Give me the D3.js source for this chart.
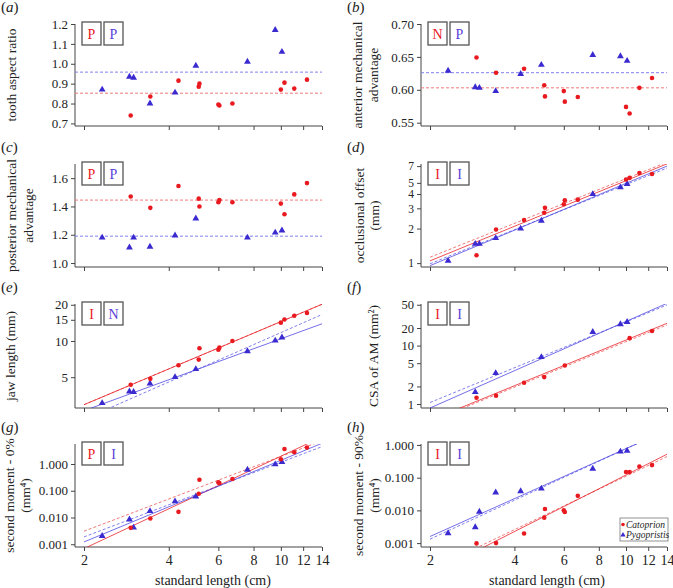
<!DOCTYPE html>
<html><head><meta charset="utf-8">
<script src="https://cdn.jsdelivr.net/npm/d3@7"></script>
<style>
body{margin:0;background:#fff}
svg{display:block}
text{font-family:"Liberation Serif","DejaVu Serif",serif;fill:#222}
</style>
</head><body><svg id="c" width="673" height="588"></svg>
<script>
// ---------- data ----------
const catX = [2.93,3.44,4.33,5.11,5.14,6.00,6.05,6.73,10.0,10.3,11.16,12.38];
const pygX = [2.32,2.90,3.00,3.43,4.21,4.99,7.61,9.55,10.09];
const xTicks = [2,4,6,8,10,12,14];

const aCat = [0.74,0.835,0.915,0.885,0.90,0.795,0.79,0.80,0.87,0.905,0.875,0.92];
const aPyg = [0.87,0.935,0.93,0.80,0.855,0.99,1.01,1.17,1.06];
const aMeans = [0.852,0.958];

const bCat = [0.649,0.626,0.632,0.607,0.59,0.598,0.582,0.589,0.574,0.564,0.603,0.618];
const bPyg = [0.629,0.604,0.603,0.598,0.624,0.638,0.653,0.651,0.644];
const bMeans = [0.603,0.626];

const cCat = [1.47,1.39,1.545,1.455,1.40,1.43,1.445,1.43,1.42,1.345,1.485,1.565];
const cPyg = [1.18,1.11,1.18,1.115,1.195,1.315,1.18,1.215,1.23];
const cMeans = [1.445,1.19];

const dCat = [1.17,1.96,2.37,2.75,3.03,3.26,3.53,3.57,5.35,5.53,6.10,5.98];
const dPyg = [1.05,1.47,1.47,1.65,2.0,2.34,3.99,4.57,4.89];
// fit lines: [x0, y0, x1, y1]
const dFits = {catSolid:[2,1.046,14,7.32], catDash:[2,1.125,14,7.57], pygSolid:[2,0.95,14,7.0], pygDash:[2,0.987,14,6.73]};

const eCat = [4.32,4.84,6.29,7.0,8.70,8.47,8.80,10.0,14.2,15.1,16.2,17.1];
const ePyg = [3.04,3.80,3.76,4.43,5.0,5.83,8.22,10.06,10.7];
const eFits = {catSolid:[2,2.95,14,20.2], catDash:[2,2.95,14,20.2], pygSolid:[2,2.63,14,13.9], pygDash:[2,2.23,14,16.6]};

const fCatX = [2.93,3.44,4.33,5.11,6.05,10.3,12.38];
const fCat = [1.28,1.39,2.31,2.89,4.56,13.4,17.8];
const fPygX = [2.90,3.43,4.99,7.61,9.55,10.09];
const fPyg = [1.60,3.38,6.34,17.1,23.2,25.4];
const fFits = {catSolid:[2,0.526,14,24.1], catDash:[2,0.50,14,22.6], pygSolid:[2,0.855,14,52.9], pygDash:[2,1.06,14,49.5]};

const gCat = [0.0041,0.0092,0.0163,0.077,0.258,0.205,0.194,0.274,1.50,3.65,2.74,4.10];
const gPyg = [0.00205,0.0084,0.0042,0.0173,0.040,0.0614,0.612,0.97,1.19];
const gFits = {catSolid:[2,0.00069,14,10.3], catDash:[2,0.00308,14,7.38], pygSolid:[2,0.00122,14,5.97], pygDash:[2,0.00188,14,4.46]};

const hCat = [0.00098,0.0010,0.00196,0.006,0.011,0.0100,0.0089,0.0278,0.149,0.149,0.220,0.242];
const hPyg = [0.00201,0.00305,0.0091,0.0351,0.0385,0.0464,0.187,0.628,0.658];
const hFits = {catSolid:[2,0.00011,14,0.522], catDash:[2,0.000149,14,0.443], pygSolid:[2,0.00159,14,2.82], pygDash:[2,0.00132,14,2.9]};

const smallLogTicks = [0.001,0.01,0.1,1];
const species = ["Catoprion","Pygopristis"];

// ---------- styling ----------
const RED = "#e8191f", BLUE = "#3a2ad0";
const RED_L = "#f07a7a", BLUE_L = "#8080ee";
const RED_LET = "#e8191f", BLUE_LET = "#5a3fd8";

const rows = [{t:24,b:126},{t:164,b:267},{t:304,b:408},{t:444,b:547}];
const cols = [{axis:75, x0:84, x1:322, lab:0, title:213},{axis:421, x0:430, x1:667, lab:346, title:547}];

const panels = [
 {id:"a", r:0, c:0, type:"lin", dom:[0.687,1.2], ticks:[0.7,0.8,0.9,1.0,1.1,1.2], fmt:d3.format(".1f"), tfs:13,
  label:["tooth aspect ratio"], labX:[11], cat:aCat, catX:catX, pyg:aPyg, pygX:pygX, means:aMeans, let:["P","P"]},
 {id:"b", r:0, c:1, type:"lin", dom:[0.545,0.70], ticks:[0.55,0.60,0.65,0.70], fmt:d3.format(".2f"), tfs:13,
  label:["anterior mechanical","advantage"], labX:[357,373], cat:bCat, catX:catX, pyg:bPyg, pygX:pygX, means:bMeans, let:["N","P"]},
 {id:"c", r:1, c:0, type:"lin", dom:[0.972,1.70], ticks:[1.0,1.2,1.4,1.6], fmt:d3.format(".1f"), tfs:13,
  label:["posterior mechanical","advantage"], labX:[11,28], cat:cCat, catX:catX, pyg:cPyg, pygX:pygX, means:cMeans, let:["P","P"]},
 {id:"d", r:1, c:1, type:"log", dom:[0.925,7.3], ticks:[1,2,3,4,5,7], fmt:d3.format("d"), tfs:11.5,
  label:["occlusional offset","(mm)"], labX:[359,374], cat:dCat, catX:catX, pyg:dPyg, pygX:pygX, fits:dFits, let:["I","I"]},
 {id:"e", r:2, c:0, type:"log", dom:[2.77,20.3], ticks:[5,10,15,20], fmt:d3.format("d"), tfs:13,
  label:["jaw length (mm)"], labX:[10], cat:eCat, catX:catX, pyg:ePyg, pygX:pygX, fits:eFits, let:["I","N"]},
 {id:"f", r:2, c:1, type:"log", dom:[0.855,51.5], ticks:[1,2,5,10,20,50], fmt:d3.format("d"), tfs:12.5,
  label:["CSA of AM (mm\u00b2)"], labX:[373], cat:fCat, catX:fCatX, pyg:fPyg, pygX:fPygX, fits:fFits, let:["I","I"]},
 {id:"g", r:3, c:0, type:"log", dom:[0.00079,5.6], ticks:smallLogTicks, fmt:d3.format(".3f"), tfs:13,
  label:["second moment - 0%","(mm\u2074)"], labX:[9,25], cat:gCat, catX:catX, pyg:gPyg, pygX:pygX, fits:gFits, let:["P","I"]},
 {id:"h", r:3, c:1, type:"log", dom:[0.00076,1.07], ticks:smallLogTicks, fmt:d3.format(".3f"), tfs:13,
  label:["second moment - 90%","(mm\u2074)"], labX:[358,374], cat:hCat, catX:catX, pyg:hPyg, pygX:pygX, fits:hFits, let:["I","I"]}
];

const svg = d3.select("#c");
const defs = svg.append("defs");
const tri = d3.symbol().type(d3.symbolTriangle).size(20);

panels.forEach(p => {
  const row = rows[p.r], col = cols[p.c];
  const x = d3.scaleLog().domain([2,14]).range([col.x0, col.x1]);
  const y = (p.type === "log" ? d3.scaleLog() : d3.scaleLinear()).domain(p.dom).range([row.b, row.t]);
  const g = svg.append("g");

  defs.append("clipPath").attr("id","clip-"+p.id).append("rect")
    .attr("x", col.axis).attr("y", row.t).attr("width", col.x1 - col.axis).attr("height", row.b - row.t);

  // panel letter
  const pl = g.append("text").attr("x", col.lab + 1).attr("y", row.t - 12).attr("font-size", 15);
  pl.append("tspan").text("(");
  pl.append("tspan").attr("font-style","italic").text(p.id);
  pl.append("tspan").text(")");

  // y axis
  const ya = d3.axisLeft(y).tickValues(p.ticks).tickFormat(p.fmt).tickSize(4).tickPadding(3);
  const yg = g.append("g").attr("transform", `translate(${col.axis},0)`).call(ya);
  yg.select(".domain").remove();
  yg.selectAll("line").attr("stroke","#444");
  yg.selectAll("text").attr("font-size",p.tfs).attr("font-family",'"Liberation Serif",serif').attr("fill","#222");

  // x axis
  const xa = d3.axisBottom(x).tickValues(xTicks).tickSize(4).tickPadding(4)
    .tickFormat(p.r === 3 ? d3.format("d") : () => "");
  const xg = g.append("g").attr("transform", `translate(0,${row.b})`).call(xa);
  xg.select(".domain").remove();
  xg.selectAll("line").attr("stroke","#444");
  xg.selectAll("text").attr("font-size",14).attr("font-family",'"Liberation Serif",serif').attr("fill","#222");

  // frame (L shape)
  g.append("path").attr("d", `M${col.axis},${row.t}V${row.b}H${col.x1}`)
    .attr("fill","none").attr("stroke","#444").attr("stroke-width",1);

  // y label
  const midY = (row.t + row.b)/2;
  p.label.forEach((s,i) => {
    g.append("text").attr("transform", `translate(${p.labX[i]},${midY}) rotate(-90)`)
      .attr("text-anchor","middle").attr("dominant-baseline","central")
      .attr("font-size",13.5).text(s);
  });

  const plot = g.append("g").attr("clip-path", `url(#clip-${p.id})`);

  if (p.means) {
    [[p.means[0], RED_L],[p.means[1], BLUE_L]].forEach(([m,cc]) => {
      plot.append("line").attr("x1", col.axis).attr("x2", col.x1).attr("y1", y(m)).attr("y2", y(m))
        .attr("stroke", cc).attr("stroke-width",1).attr("stroke-dasharray","3,2");
    });
  }
  if (p.fits) {
    const defsF = [["catDash", RED_L, "3,2"],["pygDash", BLUE_L, "3,2"],["catSolid", RED, null],["pygSolid", "#4a40e0", null]];
    defsF.forEach(([k,cc,da]) => {
      const f = p.fits[k];
      const ln = plot.append("line").attr("x1", x(f[0])).attr("y1", y(f[1])).attr("x2", x(f[2])).attr("y2", y(f[3]))
        .attr("stroke", cc).attr("stroke-width", da ? 1 : 0.9);
      if (da) ln.attr("stroke-dasharray", da);
      else ln.attr("stroke-opacity", 0.85);
    });
  }

  // points
  g.selectAll(null).data(p.pyg).join("path")
    .attr("d", tri).attr("transform", (d,i) => `translate(${x(p.pygX[i])},${y(d)})`).attr("fill", BLUE);
  g.selectAll(null).data(p.cat).join("circle")
    .attr("cx", (d,i) => x(p.catX[i])).attr("cy", d => y(d)).attr("r", 2.3).attr("fill", RED);

  // legend letter boxes
  const bx = [col.axis + 7, col.axis + 29];
  p.let.forEach((L,i) => {
    g.append("rect").attr("x", bx[i]).attr("y", row.t - 2).attr("width", 19).attr("height", 23)
      .attr("fill","#fff").attr("stroke","#555").attr("stroke-width",1.3);
    g.append("text").attr("x", bx[i] + 9.5).attr("y", row.t + 14.5).attr("text-anchor","middle")
      .attr("font-size",14).style("fill", i === 0 ? RED_LET : BLUE_LET).text(L);
  });
});

// x axis titles
cols.forEach(col => {
  svg.append("text").attr("x", col.title).attr("y", 585).attr("text-anchor","middle")
    .attr("font-size",14).text("standard length (cm)");
});

// species legend in (h)
const lg = svg.append("g");
lg.append("rect").attr("x",620).attr("y",518).attr("width",48).attr("height",23)
  .attr("fill","#fff").attr("stroke","#777").attr("stroke-width",0.8);
species.forEach((s,i) => {
  const yy = 524.5 + i*10.5;
  if (i === 0) lg.append("circle").attr("cx",623).attr("cy",yy).attr("r",1.8).attr("fill",RED);
  else lg.append("path").attr("d", d3.symbol().type(d3.symbolTriangle).size(12)).attr("transform",`translate(623,${yy})`).attr("fill",BLUE);
  lg.append("text").attr("x",626).attr("y",yy).attr("dominant-baseline","central")
    .attr("font-size",9.5).attr("font-style","italic").text(s);
});
</script>
</body></html>
